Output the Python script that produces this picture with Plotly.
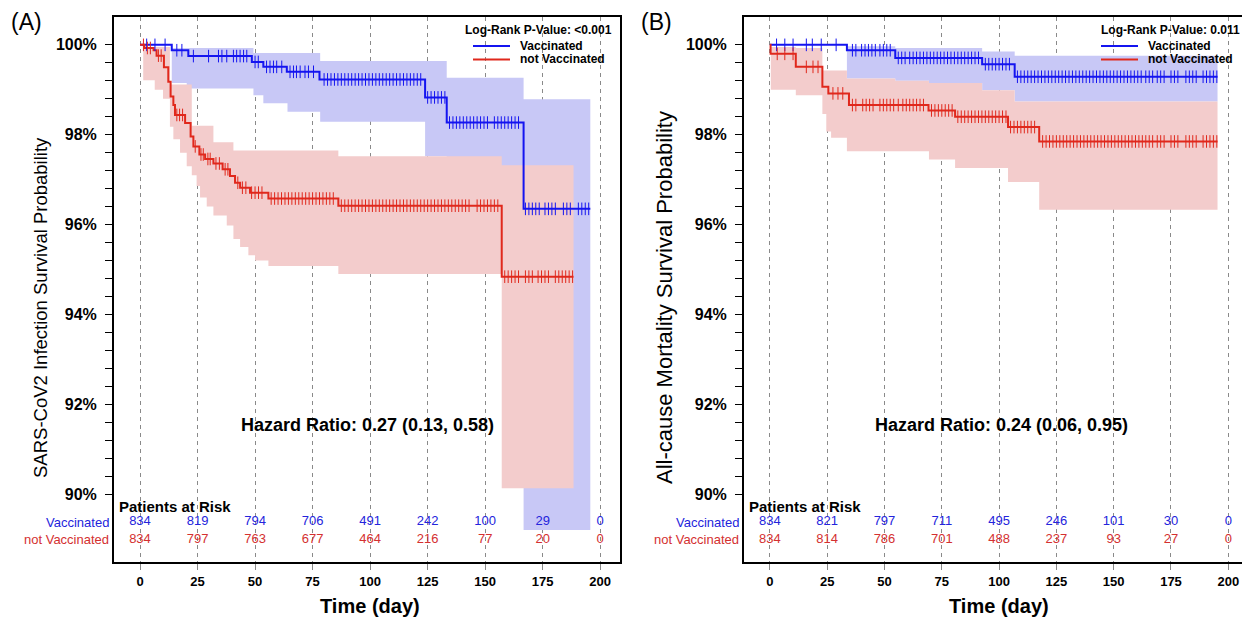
import numpy as np
import plotly.graph_objects as go

# ---------------- data ----------------
risk_days = [0, 25, 50, 75, 100, 125, 150, 175, 200]

# Panel A : SARS-CoV2 infection
A_vac_t = [0, 13.8, 21.0, 48.6, 53.6, 63.8, 78.0, 123.9, 133.3, 166.7, 195.7]
A_vac_s = [100, 99.88, 99.75, 99.62, 99.51, 99.40, 99.23, 98.83, 98.27, 96.35, 96.35]
A_not_t = [0, 1.9, 5.9, 7.2, 10.4, 12.3, 13.3, 14.5, 15.2, 19.6, 22.0, 23.2, 25.8, 28.3,
           31.9, 35.9, 39.1, 41.3, 43.5, 47.8, 55.8, 86.2, 157.2, 188.4]
A_not_s = [100, 99.93, 99.88, 99.76, 99.5, 99.18, 98.85, 98.66, 98.44, 98.26, 97.96, 97.74,
           97.56, 97.46, 97.36, 97.23, 97.08, 96.93, 96.82, 96.71, 96.58, 96.42, 94.84, 94.84]

A_vac_ci_t = [13.8, 20.3, 49.3, 53.6, 64.1, 78.3, 123.9, 133.3, 166.7, 195.7]
A_vac_ci_hi = [99.93, 99.93, 99.82, 99.82, 99.82, 99.64, 99.64, 99.27, 98.79, 98.79]
A_vac_ci_lo = [99.15, 99.03, 98.88, 98.70, 98.51, 98.29, 97.52, 97.30, 89.2, 89.2]

A_not_ci_t = [1.4, 6.4, 10.0, 13.0, 14.5, 17.4, 20.3, 22.5, 24.6, 26.1, 29.0, 31.9, 37.7,
              40.6, 43.5, 47.1, 50.0, 55.8, 86.2, 157.2, 188.4]
A_not_ci_hi = [99.95, 99.95, 99.95, 99.12, 99.12, 99.12, 99.12, 98.2, 98.2, 98.2, 98.2,
               97.83, 97.83, 97.65, 97.65, 97.65, 97.65, 97.65, 97.52, 97.32, 97.32]
A_not_ci_lo = [99.21, 99.0, 98.8, 98.18, 97.9, 97.6, 97.3, 97.1, 96.86, 96.6, 96.4, 96.2,
               95.98, 95.68, 95.5, 95.32, 95.2, 95.08, 94.9, 90.13, 90.13]

A_vac_cens = [2.9, 6.5, 10.9, 16, 18.2, 23.2, 29.8, 34.1, 35.6, 37.7, 40.6, 42, 43.5, 45, 46.4,
              50, 51.4, 55, 56.5, 58, 59.4, 61.6, 65.2, 66.7, 68, 69.6, 71.7, 73.2, 75.4, 80,
              81.5, 83, 84.5, 86, 87.5, 89, 90.5, 92, 93.5, 95, 96.5, 98, 99.5, 101, 102.5,
              104, 105.5, 107, 108.5, 110, 111.5, 113, 114.5, 116, 117.5, 119, 120.5, 122,
              125, 126.5, 128, 129.5, 131, 132.5, 134.5, 136, 137.5, 139, 140.5, 142, 143.5,
              145, 146.5, 148, 149.5, 151, 154, 155.5, 157, 158.5, 160, 161.5, 163, 164.5,
              167.5, 169, 170.5, 172, 173.5, 176, 177.5, 179, 180.5, 184, 185.5, 187, 190.5,
              192, 193.5, 195]
A_not_cens = [1.5, 3.2, 4.5, 8.0, 9.2, 16.0, 17.2, 18.5, 24.0, 26.5, 27.5, 29.5, 30.5, 33, 34.5,
              37, 38.2, 42.5, 44.5, 46, 48.5, 50, 51.5, 53, 57, 58.5, 60, 61.5, 63, 64.5, 66,
              67.5, 69, 70.5, 72, 73.5, 75, 76.5, 78, 79.5, 81, 82.5, 84, 87.5, 89, 90.5, 92,
              93.5, 95, 96.5, 98, 99.5, 101, 102.5, 104, 105.5, 107, 108.5, 110, 111.5, 113,
              114.5, 116, 117.5, 119, 120.5, 122, 123.5, 125, 126.5, 128, 129.5, 131, 132.5,
              134, 135.5, 137, 138.5, 140, 141.5, 143, 146.5, 148, 149.5, 151, 152.5, 154,
              155.5, 158.5, 160, 161.5, 163, 164.5, 167.5, 169, 170.5, 173, 174.5, 176, 177.5,
              180.5, 182, 183.5, 185, 186.5, 188]

A_risk_vac = [834, 819, 794, 706, 491, 242, 100, 29, 0]
A_risk_not = [834, 797, 763, 677, 464, 216, 77, 20, 0]

# Panel B : all-cause mortality
B_vac_t = [0, 33.6, 54.7, 92.6, 106.8, 195.3]
B_vac_s = [100, 99.88, 99.71, 99.57, 99.29, 99.29]
B_not_t = [0, 0.3, 11.3, 22.9, 25.5, 34.5, 69.2, 80.8, 103.9, 117.5, 195.3]
B_not_s = [100, 99.80, 99.51, 99.07, 98.92, 98.66, 98.54, 98.40, 98.17, 97.85, 97.85]

B_vac_ci_t = [33.6, 54.7, 69.4, 92.6, 106.8, 195.3]
B_vac_ci_hi = [99.97, 99.93, 99.93, 99.85, 99.76, 99.76]
B_vac_ci_lo = [99.25, 99.20, 99.15, 98.99, 98.74, 98.74]

B_not_ci_t = [0.4, 11.3, 22.9, 24.6, 26.7, 33.6, 54.7, 69.4, 80.8, 92.6, 103.9, 106.8, 117.5, 195.3]
B_not_ci_hi = [99.95, 99.93, 99.43, 99.43, 99.43, 99.25, 99.20, 99.15, 99.15, 98.99, 98.99,
               98.74, 98.74, 98.74]
B_not_ci_lo = [99.0, 98.88, 98.46, 98.07, 97.93, 97.63, 97.63, 97.45, 97.26, 97.26, 96.95,
               96.95, 96.33, 96.33]

B_vac_cens = [2.9, 6.5, 10.1, 15.9, 18.5, 22.4, 28.9, 36, 37.5, 40, 41.5, 43, 44.5, 46, 48,
              49.5, 51, 52.5, 56, 57.5, 59, 61, 62.5, 64, 65.5, 67, 68.5, 70, 71.5, 73, 74.5,
              76, 77.5, 79, 80.5, 82, 83.5, 85, 86.5, 88, 89.5, 91, 94, 95.5, 97, 98.5, 100,
              101.5, 103, 104.5, 108, 109.5, 111, 112.5, 114, 115.5, 117, 118.5, 120, 121.5,
              123, 124.5, 126, 127.5, 129, 130.5, 132, 133.5, 135, 136.5, 138, 139.5, 141,
              142.5, 144, 145.5, 147, 148.5, 150, 151.5, 153, 154.5, 156, 157.5, 159, 160.5,
              162, 164, 165.5, 167, 169, 170.5, 172, 175, 176.5, 178, 181.5, 183, 184.5, 186,
              189, 190.5, 192, 193.5, 195]
B_not_cens = [3.2, 6.5, 10.1, 15.9, 18.8, 21, 27.5, 29.7, 31.8, 36, 37.5, 40.5, 42, 43.5, 45,
              48, 49.5, 51, 52.5, 54, 56, 58, 59.5, 61, 62.5, 64, 65.5, 67, 70.5, 72, 73.5, 75,
              76.5, 78, 79.5, 82, 83.5, 85, 86.5, 88, 89.5, 91, 92.5, 94, 95.5, 97, 98.5, 100,
              101.5, 103, 105, 106.5, 108, 109.5, 111, 112.5, 114, 115.5, 119, 120.5, 122,
              123.5, 125, 126.5, 128, 129.5, 131, 132.5, 134, 135.5, 137, 138.5, 140, 141.5,
              143, 144.5, 146, 147.5, 149, 150.5, 152, 153.5, 155, 156.5, 158, 159.5, 161,
              162.5, 164, 165.5, 167, 169, 170.5, 172, 175, 176.5, 178, 181.5, 183, 184.5, 186,
              189, 190.5, 192, 193.5, 195]

B_risk_vac = [834, 821, 797, 711, 495, 246, 101, 30, 0]
B_risk_not = [834, 814, 786, 701, 488, 237, 93, 27, 0]

panels = [
    dict(vt=A_vac_t, vs=A_vac_s, nt=A_not_t, ns=A_not_s,
         vct=A_vac_ci_t, vch=A_vac_ci_hi, vcl=A_vac_ci_lo,
         nct=A_not_ci_t, nch=A_not_ci_hi, ncl=A_not_ci_lo,
         vc=A_vac_cens, nc=A_not_cens, rv=A_risk_vac, rn=A_risk_not,
         pval="Log-Rank P-Value: <0.001", hr="Hazard Ratio: 0.27 (0.13, 0.58)", hrx=99,
         ytitle="SARS-CoV2 Infection Survival Probability", label="(A)",
         yt_x=40, yt_y=308, yt_size=18.5),
    dict(vt=B_vac_t, vs=B_vac_s, nt=B_not_t, ns=B_not_s,
         vct=B_vac_ci_t, vch=B_vac_ci_hi, vcl=B_vac_ci_lo,
         nct=B_not_ci_t, nch=B_not_ci_hi, ncl=B_not_ci_lo,
         vc=B_vac_cens, nc=B_not_cens, rv=B_risk_vac, rn=B_risk_not,
         pval="Log-Rank P-Value: 0.011", hr="Hazard Ratio: 0.24 (0.06, 0.95)", hrx=101,
         ytitle="All-cause Mortality Survival Probability", label="(B)",
         yt_x=664, yt_y=298, yt_size=22),
]

# ---------------- styles / geometry (screen pixels of the target) ----------------
W, H = 1250, 620
OFF = 8  # the page body margin shifts the figure by 8 px
FONT = "Liberation Sans, Arial, sans-serif"
BLUE = "#1414f0"
RED = "#e0281c"
BLUE_BAND = "#c8c8f6"
RED_BAND = "#f3cccc"
BLUE_TXT = "#2424dc"
RED_TXT = "#d43030"
SCR_TOP, SCR_BOT = 17, 562                 # frame on screen
PLOT_TOP, PLOT_BOT = SCR_TOP - OFF, SCR_BOT - OFF   # in figure pixels
scr_domains = [(114, 620), (744, 1248)]
row_label_x = [111, 741]
XR = [-11.3, 208.6]
YR = [88.49, 100.62]
Y_PAR = 89.73
Y_VAC = 89.38
Y_NOT = 88.98


def step_at(t, s, x):
    t = np.asarray(t)
    idx = np.searchsorted(t, np.asarray(x), side="right") - 1
    return [s[i] for i in idx]


def sx(xpx):
    return (xpx - OFF) / W


def py(ypx):
    return (SCR_BOT - ypx) / (SCR_BOT - SCR_TOP)


fig = go.Figure()
annotations = []
shapes = []

for i, p in enumerate(panels):
    xa = "x" if i == 0 else "x2"
    ya = "y" if i == 0 else "y2"
    # confidence bands (blue first, red on top)
    for t, lo, hi, col in [(p["vct"], p["vcl"], p["vch"], BLUE_BAND),
                           (p["nct"], p["ncl"], p["nch"], RED_BAND)]:
        fig.add_trace(go.Scatter(x=t, y=lo, mode="lines", line=dict(width=0, shape="hv"),
                                 xaxis=xa, yaxis=ya, showlegend=False, hoverinfo="skip"))
        fig.add_trace(go.Scatter(x=t, y=hi, mode="lines", line=dict(width=0, shape="hv"),
                                 fill="tonexty", fillcolor=col,
                                 xaxis=xa, yaxis=ya, showlegend=False, hoverinfo="skip"))
    # survival curves
    fig.add_trace(go.Scatter(x=p["vt"], y=p["vs"], mode="lines", name="Vaccinated",
                             line=dict(color=BLUE, width=2, shape="hv"),
                             xaxis=xa, yaxis=ya, showlegend=False))
    fig.add_trace(go.Scatter(x=p["nt"], y=p["ns"], mode="lines", name="not Vaccinated",
                             line=dict(color=RED, width=2, shape="hv"),
                             xaxis=xa, yaxis=ya, showlegend=False))
    # censor marks
    for c, t, s, col in [(p["vc"], p["vt"], p["vs"], BLUE), (p["nc"], p["nt"], p["ns"], RED)]:
        fig.add_trace(go.Scatter(x=c, y=step_at(t, s, c), mode="markers",
                                 marker=dict(symbol="line-ns", size=9,
                                             line=dict(width=1, color=col)),
                                 xaxis=xa, yaxis=ya, showlegend=False, hoverinfo="skip"))
    # risk table numbers
    fig.add_trace(go.Scatter(x=risk_days, y=[Y_VAC] * len(risk_days), mode="text",
                             text=[str(v) for v in p["rv"]],
                             textfont=dict(family=FONT, size=13, color=BLUE_TXT),
                             xaxis=xa, yaxis=ya, showlegend=False, hoverinfo="skip"))
    fig.add_trace(go.Scatter(x=risk_days, y=[Y_NOT] * len(risk_days), mode="text",
                             text=[str(v) for v in p["rn"]],
                             textfont=dict(family=FONT, size=13, color=RED_TXT),
                             xaxis=xa, yaxis=ya, showlegend=False, hoverinfo="skip"))

    x0, x1 = scr_domains[i]
    # Patients at Risk header
    annotations.append(dict(x=-9.8, y=Y_PAR, xref=xa, yref=ya, text="<b>Patients at Risk</b>",
                            showarrow=False, xanchor="left", yanchor="middle",
                            font=dict(family=FONT, size=15, color="black")))
    # row labels
    for yv, txt, col in [(Y_VAC, "Vaccinated", BLUE_TXT), (Y_NOT, "not Vaccinated", RED_TXT)]:
        annotations.append(dict(x=sx(row_label_x[i]), y=yv, xref="paper", yref=ya, text=txt,
                                showarrow=False, xanchor="right", yanchor="middle",
                                font=dict(family=FONT, size=13, color=col)))
    # hazard ratio
    annotations.append(dict(x=p["hrx"], y=91.53, xref=xa, yref=ya, text="<b>" + p["hr"] + "</b>",
                            showarrow=False, xanchor="center", yanchor="middle",
                            font=dict(family=FONT, size=18, color="black")))
    # legend block
    right = x1 - 6
    annotations.append(dict(x=sx(right), y=py(30), xref="paper", yref="paper",
                            text="<b>" + p["pval"] + "</b>", showarrow=False,
                            xanchor="right", yanchor="middle",
                            font=dict(family=FONT, size=12, color="black")))
    lx0 = right - 141
    for ypx, txt, col in [(46, "Vaccinated", BLUE), (59.5, "not Vaccinated", RED)]:
        shapes.append(dict(type="line", xref="paper", yref="paper",
                           x0=sx(lx0), x1=sx(lx0 + 37), y0=py(ypx), y1=py(ypx),
                           line=dict(color=col, width=2)))
        annotations.append(dict(x=sx(lx0 + 45), y=py(ypx), xref="paper", yref="paper",
                                text="<b>" + txt + "</b>", showarrow=False,
                                xanchor="left", yanchor="middle",
                                font=dict(family=FONT, size=12, color="black")))
    # axis titles
    xc = x0 + (x1 - x0) * (0 - XR[0]) / (XR[1] - XR[0])
    xe = x0 + (x1 - x0) * (200 - XR[0]) / (XR[1] - XR[0])
    annotations.append(dict(x=sx((xc + xe) / 2), y=py(606), xref="paper", yref="paper",
                            text="<b>Time (day)</b>", showarrow=False,
                            xanchor="center", yanchor="middle",
                            font=dict(family=FONT, size=20, color="black")))
    annotations.append(dict(x=sx(p["yt_x"]), y=py(p["yt_y"]), xref="paper", yref="paper",
                            text=p["ytitle"], textangle=-90, showarrow=False,
                            xanchor="center", yanchor="middle",
                            font=dict(family=FONT, size=p["yt_size"], color="black")))
    # panel label
    annotations.append(dict(x=sx(x0 - 88), y=py(22), xref="paper", yref="paper",
                            text=p["label"], showarrow=False,
                            xanchor="center", yanchor="middle",
                            font=dict(family=FONT, size=23, color="black")))

xaxis_common = dict(range=XR, tickvals=risk_days, ticks="outside", ticklen=6,
                    tickcolor="#888888", tickwidth=1,
                    tickfont=dict(family=FONT, size=13, color="black", weight="bold"),
                    showgrid=True, gridcolor="#8a8a8a", gridwidth=1, griddash="4px,4px",
                    showline=True, linecolor="black", linewidth=2, mirror=True,
                    zeroline=False, automargin=False)
yaxis_common = dict(range=YR, tickvals=[90, 92, 94, 96, 98, 100],
                    ticktext=["90%", "92%", "94%", "96%", "98%", "100%"],
                    ticks="outside", ticklen=7, tickcolor="black", tickwidth=1,
                    minor=dict(tickmode="array",
                               tickvals=[90.4, 90.8, 91.2, 91.6, 92.4, 92.8, 93.2, 93.6,
                                         94.4, 94.8, 95.2, 95.6, 96.4, 96.8, 97.2, 97.6,
                                         98.4, 98.8, 99.2, 99.6],
                               ticks="outside", ticklen=7, tickcolor="black", tickwidth=1),
                    tickfont=dict(family=FONT, size=16, color="black", weight="bold"),
                    ticklabelstandoff=5,
                    showgrid=False, showline=True, linecolor="black", linewidth=2,
                    mirror=True, zeroline=False, automargin=False)

fig.update_layout(
    width=W, height=H,
    margin=dict(l=0, r=0, t=PLOT_TOP, b=H - PLOT_BOT),
    paper_bgcolor="white", plot_bgcolor="white",
    xaxis=dict(domain=[sx(scr_domains[0][0]), sx(scr_domains[0][1])], anchor="y", **xaxis_common),
    yaxis=dict(domain=[0, 1], anchor="x", **yaxis_common),
    xaxis2=dict(domain=[sx(scr_domains[1][0]), sx(scr_domains[1][1])], anchor="y2", **xaxis_common),
    yaxis2=dict(domain=[0, 1], anchor="x2", **yaxis_common),
    annotations=annotations,
    shapes=shapes,
    showlegend=False,
    font=dict(family=FONT, color="black"),
)

fig.write_html("out.html")
